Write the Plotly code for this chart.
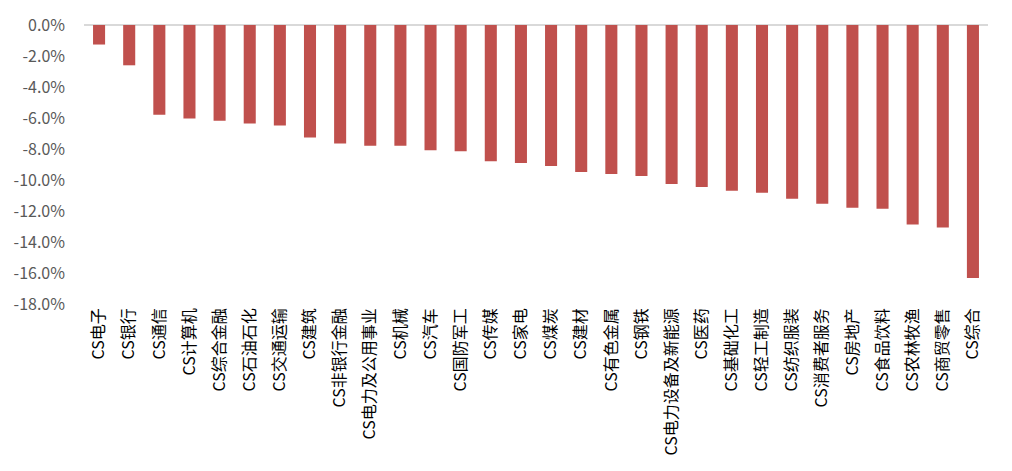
import plotly.graph_objects as go

categories = ["CS电子", "CS银行", "CS通信", "CS计算机", "CS综合金融", "CS石油石化", "CS交通运输",
              "CS建筑", "CS非银行金融", "CS电力及公用事业", "CS机械", "CS汽车", "CS国防军工",
              "CS传媒", "CS家电", "CS煤炭", "CS建材", "CS有色金属", "CS钢铁", "CS电力设备及新能源",
              "CS医药", "CS基础化工", "CS轻工制造", "CS纺织服装", "CS消费者服务", "CS房地产",
              "CS食品饮料", "CS农林牧渔", "CS商贸零售", "CS综合"]
values = [-1.26, -2.60, -5.79, -6.04, -6.17, -6.36, -6.49, -7.26, -7.64, -7.79, -7.79, -8.08,
          -8.15, -8.79, -8.91, -9.10, -9.49, -9.62, -9.74, -10.25, -10.45, -10.70, -10.83,
          -11.21, -11.53, -11.79, -11.85, -12.87, -13.06, -16.32]
tick_vals = [0, -2, -4, -6, -8, -10, -12, -14, -16, -18]
tick_text = ["0.0%", "-2.0%", "-4.0%", "-6.0%", "-8.0%", "-10.0%", "-12.0%", "-14.0%", "-16.0%", "-18.0%"]

fig = go.Figure(go.Bar(x=categories, y=values, marker_color="#C0504D", marker_line_width=0))

fig.update_layout(
    width=1012, height=471,
    margin=dict(l=84, r=24, t=22, b=167),
    plot_bgcolor="white", paper_bgcolor="white",
    bargap=0.6, showlegend=False,
    font=dict(family="Noto Sans CJK SC"),
)
fig.update_xaxes(
    tickangle=-90, showgrid=False, showline=False, ticks="",
    tickfont=dict(size=16, color="#000000", family="Noto Sans CJK SC"),
)
fig.update_yaxes(
    range=[-18, 0], tickvals=tick_vals, ticktext=tick_text, showgrid=False,
    zeroline=True, zerolinecolor="#D9D9D9", zerolinewidth=1.5,
    tickfont=dict(size=16, color="#595959", family="Noto Sans CJK SC"),
    ticks="", ticklabelstandoff=18,
)
fig.write_html("out.html")
